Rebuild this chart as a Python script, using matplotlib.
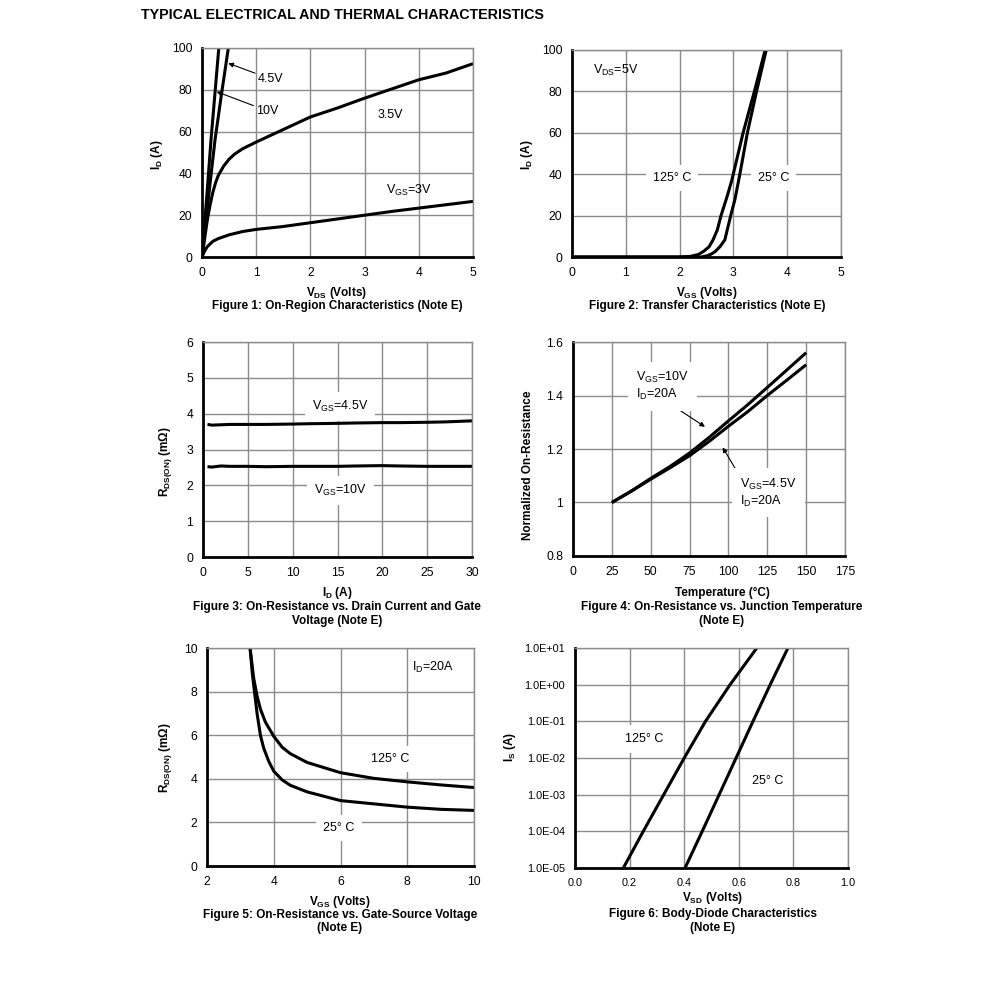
import matplotlib
matplotlib.use("Agg")
import matplotlib.pyplot as plt
from matplotlib.ticker import FixedLocator, FuncFormatter, NullLocator

plt.rcParams['font.family'] = ['Liberation Sans', 'DejaVu Sans']
plt.rcParams['mathtext.fontset'] = 'custom'
plt.rcParams['mathtext.sf'] = 'Liberation Sans'
plt.rcParams['mathtext.rm'] = 'Liberation Sans'
plt.rcParams['mathtext.bf'] = 'Liberation Sans:bold'

W, H = 991, 997

# ---------------- data ----------------
# Figure 1: on-region characteristics
f1_vds_10 = [0, 0.1, 0.166, 0.31]
f1_id_10 = [0, 33, 56, 100]
f1_vds_45 = [0, 0.1, 0.24, 0.36, 0.486]
f1_id_45 = [0, 24, 56, 78, 100]
f1_vds_35 = [0, 0.05, 0.1, 0.15, 0.2, 0.25, 0.3, 0.4, 0.5, 0.6, 0.75, 1.0, 1.5, 2.0, 2.5, 3.0, 3.5, 4.0, 4.5, 5.0]
f1_id_35 = [0, 9, 18, 25, 31, 35.5, 39, 43.5, 46.8, 49.2, 51.8, 55, 61, 67, 71.3, 76, 80.4, 84.8, 88, 92.5]
f1_vds_3 = [0, 0.05, 0.1, 0.2, 0.3, 0.5, 0.75, 1.0, 1.5, 2.0, 2.5, 3.0, 3.5, 4.0, 4.5, 5.0]
f1_id_3 = [0, 3, 5, 7.5, 8.8, 10.6, 12.2, 13.2, 14.6, 16.4, 18.2, 20.0, 21.8, 23.4, 25.0, 26.6]

# Figure 2: transfer characteristics
f2_vgs_125 = [0, 2.0, 2.2, 2.35, 2.45, 2.55, 2.62, 2.7, 2.77, 2.88, 2.97, 3.18, 3.39, 3.59]
f2_id_125 = [0, 0, 0.3, 1.2, 2.8, 5, 8.2, 13, 20, 29, 37, 60, 80, 100]
f2_vgs_25 = [0, 2.4, 2.5, 2.58, 2.66, 2.75, 2.84, 2.95, 3.03, 3.12, 3.26, 3.43, 3.61]
f2_id_25 = [0, 0, 0.5, 1.3, 2.6, 5, 8.2, 20, 28, 40, 60, 80, 100]

# Figure 3: on-resistance vs drain current
f3_id = [0.5, 1, 2, 3, 5, 7, 10, 12, 15, 17, 20, 22, 25, 27, 30]
f3_r_45 = [3.70, 3.68, 3.69, 3.70, 3.70, 3.70, 3.71, 3.72, 3.73, 3.74, 3.75, 3.75, 3.76, 3.77, 3.80]
f3_r_10 = [2.52, 2.51, 2.54, 2.53, 2.53, 2.52, 2.53, 2.53, 2.53, 2.54, 2.55, 2.54, 2.53, 2.53, 2.53]

# Figure 4: normalized on-resistance vs temperature
f4_temp = [25, 37.5, 50, 62.5, 75, 87.5, 100, 112.5, 125, 137.5, 150]
f4_r_10 = [1.0, 1.043, 1.09, 1.135, 1.185, 1.243, 1.305, 1.366, 1.43, 1.495, 1.56]
f4_r_45 = [1.0, 1.042, 1.087, 1.13, 1.175, 1.228, 1.285, 1.34, 1.40, 1.457, 1.515]

# Figure 5: on-resistance vs gate-source voltage
f5_vgs_125 = [3.29, 3.4, 3.5, 3.6, 3.75, 4.0, 4.25, 4.5, 5, 6, 7, 8, 9, 10]
f5_r_125 = [10, 8.6, 7.8, 7.2, 6.6, 5.95, 5.45, 5.15, 4.75, 4.28, 4.02, 3.86, 3.72, 3.6]
f5_vgs_25 = [3.29, 3.36, 3.43, 3.5, 3.6, 3.7, 3.85, 4.0, 4.25, 4.5, 5, 6, 7, 8, 9, 10]
f5_r_25 = [10, 8.8, 7.9, 7.0, 6.0, 5.4, 4.8, 4.35, 3.95, 3.7, 3.4, 3.0, 2.85, 2.7, 2.6, 2.55]

# Figure 6: body-diode characteristics
f6_is = [1e-5, 1e-4, 1e-3, 1e-2, 1e-1, 1, 10]
f6_vsd_125 = [0.177, 0.25, 0.325, 0.40, 0.478, 0.568, 0.666]
f6_vsd_25 = [0.403, 0.466, 0.528, 0.59, 0.652, 0.715, 0.78]

GRID = '#8c8c8c'
TICK_FS = 8.7
LAB_FS = 8.5
TXT_FS = 9.0


def ax_at(fig, left, top, right, bottom, tick_fs=TICK_FS):
    """Create axes from pixel box."""
    ax = fig.add_axes([left / W, 1 - bottom / H, (right - left) / W, (bottom - top) / H])
    ax.grid(True, color=GRID, lw=1.0)
    ax.set_axisbelow(True)
    for s in ['top', 'right']:
        ax.spines[s].set_color(GRID)
        ax.spines[s].set_linewidth(1.0)
    for s in ['left', 'bottom']:
        ax.spines[s].set_color('black')
        ax.spines[s].set_linewidth(2.0)
    ax.tick_params(length=0, labelsize=tick_fs, pad=7)
    return ax


def ftext(fig, x, y, s, fs=LAB_FS):
    # y is the text baseline in pixels from the top
    fig.text(x / W, 1 - y / H, s, ha='center', va='baseline', fontweight='bold', fontsize=fs)


def ylab(fig, x, y, s):
    fig.text(x / W, 1 - y / H, s, rotation=90, ha='center', va='center',
             fontweight='bold', fontsize=LAB_FS)


def wbox(pad):
    return dict(facecolor='white', edgecolor='none', pad=pad)


line_kw = dict(color='black', lw=2.2, solid_capstyle='butt')
arrow_kw = dict(arrowstyle='-|>', color='black', lw=0.8, shrinkA=0, shrinkB=0, mutation_scale=7)

fig = plt.figure(figsize=(W / 100, H / 100), dpi=100)
fig.text(141 / W, 1 - 15 / H, 'TYPICAL ELECTRICAL AND THERMAL CHARACTERISTICS',
         ha='left', va='center', fontweight='bold', fontsize=10.3)

# ---------------- Figure 1 ----------------
ax1 = ax_at(fig, 202, 48, 473, 257)
ax1.plot(f1_vds_10, f1_id_10, **line_kw)
ax1.plot(f1_vds_45, f1_id_45, **line_kw)
ax1.plot(f1_vds_35, f1_id_35, **line_kw)
ax1.plot(f1_vds_3, f1_id_3, **line_kw)
ax1.set_xlim(0, 5)
ax1.set_ylim(0, 100)
ax1.set_xticks(range(0, 6))
ax1.set_yticks(range(0, 101, 20))
ax1.annotate('4.5V', xy=(0.485, 92.7), xytext=(1.03, 85.2), fontsize=TXT_FS, va='center',
             arrowprops=arrow_kw)
ax1.annotate('10V', xy=(0.27, 79.1), xytext=(1.0, 69.9), fontsize=TXT_FS, va='center',
             arrowprops=arrow_kw)
ax1.text(3.23, 68, '3.5V', fontsize=TXT_FS, va='center')
ax1.text(3.4, 32, r'V$_\mathsf{GS}$=3V', fontsize=TXT_FS, va='center')
ftext(fig, 337, 296, r'V$_\mathbf{DS}$ (Volts)')
ftext(fig, 337, 309, 'Figure 1: On-Region Characteristics (Note E)')
ylab(fig, 157, 155, r'I$_\mathbf{D}$ (A)')

# ---------------- Figure 2 ----------------
ax2 = ax_at(fig, 572, 50, 841, 257)
ax2.plot(f2_vgs_125, f2_id_125, **line_kw)
ax2.plot(f2_vgs_25, f2_id_25, **line_kw)
ax2.set_xlim(0, 5)
ax2.set_ylim(0, 100)
ax2.set_xticks(range(0, 6))
ax2.set_yticks(range(0, 101, 20))
ax2.text(0.39, 90, r'V$_\mathsf{DS}$=5V', fontsize=TXT_FS, va='center')
ax2.text(1.86, 38, '125° C', fontsize=TXT_FS, ha='center', va='center', bbox=wbox(5))
ax2.text(3.75, 38, '25° C', fontsize=TXT_FS, ha='center', va='center', bbox=wbox(5))
ftext(fig, 707, 296, r'V$_\mathbf{GS}$ (Volts)')
ftext(fig, 707, 309, 'Figure 2: Transfer Characteristics (Note E)')
ylab(fig, 527, 155, r'I$_\mathbf{D}$ (A)')

# ---------------- Figure 3 ----------------
ax3 = ax_at(fig, 203, 342, 472, 557)
ax3.plot(f3_id, f3_r_45, **line_kw)
ax3.plot(f3_id, f3_r_10, **line_kw)
ax3.set_xlim(0, 30)
ax3.set_ylim(0, 6)
ax3.set_xticks(range(0, 31, 5))
ax3.set_yticks(range(0, 7))
ax3.text(15.3, 4.2, r'V$_\mathsf{GS}$=4.5V', fontsize=TXT_FS, ha='center', va='center', bbox=wbox(5))
ax3.text(15.3, 1.86, r'V$_\mathsf{GS}$=10V', fontsize=TXT_FS, ha='center', va='center', bbox=wbox(5))
ftext(fig, 337, 596, r'I$_\mathbf{D}$ (A)')
ftext(fig, 337, 610, 'Figure 3: On-Resistance vs. Drain Current and Gate')
ftext(fig, 337, 624, 'Voltage (Note E)')
ylab(fig, 165, 462, r'R$_\mathbf{DS(ON)}$ (m$\mathbf{\Omega}$)')

# ---------------- Figure 4 ----------------
ax4 = ax_at(fig, 573, 342, 845, 556)
ax4.plot(f4_temp, f4_r_10, **line_kw)
ax4.plot(f4_temp, f4_r_45, **line_kw)
ax4.set_xlim(0, 175)
ax4.set_ylim(0.8, 1.6)
ax4.set_xticks(range(0, 176, 25))
ax4.set_yticks([0.8, 1.0, 1.2, 1.4, 1.6])
ax4.yaxis.set_major_formatter(FuncFormatter(lambda v, _: f'{v:g}'))
ax4.annotate('V$_\\mathsf{GS}$=10V\nI$_\\mathsf{D}$=20A', xy=(84.9, 1.283), xytext=(40.5, 1.435),
             fontsize=TXT_FS, va='center', ha='left', bbox=wbox(6),
             arrowprops=dict(arrow_kw, relpos=(0.6, 0.0)))
ax4.annotate('V$_\\mathsf{GS}$=4.5V\nI$_\\mathsf{D}$=20A', xy=(96.3, 1.206), xytext=(107.5, 1.036),
             fontsize=TXT_FS, va='center', ha='left', bbox=wbox(6),
             arrowprops=dict(arrow_kw, relpos=(0.0, 1.0)))
ftext(fig, 722, 596, 'Temperature (°C)')
ftext(fig, 722, 610, 'Figure 4: On-Resistance vs. Junction Temperature')
ftext(fig, 722, 624, '(Note E)')
ylab(fig, 528, 465, 'Normalized On-Resistance')

# ---------------- Figure 5 ----------------
ax5 = ax_at(fig, 207, 648, 474, 866)
ax5.plot(f5_vgs_125, f5_r_125, **line_kw)
ax5.plot(f5_vgs_25, f5_r_25, **line_kw)
ax5.set_xlim(2, 10)
ax5.set_ylim(0, 10)
ax5.set_xticks(range(2, 11, 2))
ax5.set_yticks(range(0, 11, 2))
ax5.text(8.14, 9.1, r'I$_\mathsf{D}$=20A', fontsize=TXT_FS, va='center')
ax5.text(7.48, 4.9, '125° C', fontsize=TXT_FS, ha='center', va='center', bbox=wbox(5))
ax5.text(5.95, 1.74, '25° C', fontsize=TXT_FS, ha='center', va='center', bbox=wbox(5))
ftext(fig, 340, 905, r'V$_\mathbf{GS}$ (Volts)')
ftext(fig, 340, 918, 'Figure 5: On-Resistance vs. Gate-Source Voltage')
ftext(fig, 340, 931, '(Note E)')
ylab(fig, 165, 758, r'R$_\mathbf{DS(ON)}$ (m$\mathbf{\Omega}$)')

# ---------------- Figure 6 ----------------
ax6 = ax_at(fig, 575, 648, 848, 868, tick_fs=7.8)
ax6.set_yscale('log')
ax6.plot(f6_vsd_125, f6_is, **line_kw)
ax6.plot(f6_vsd_25, f6_is, **line_kw)
ax6.set_xlim(0, 1.0)
ax6.set_ylim(1e-5, 1e1)
ax6.set_xticks([0, 0.2, 0.4, 0.6, 0.8, 1.0])
ax6.xaxis.set_major_formatter(FuncFormatter(lambda v, _: f'{v:.1f}'))
ax6.yaxis.set_major_locator(FixedLocator([1e-5, 1e-4, 1e-3, 1e-2, 1e-1, 1, 10]))
ax6.yaxis.set_minor_locator(NullLocator())
ax6.yaxis.set_major_formatter(FuncFormatter(lambda v, _: f'{v:.1E}'))
ax6.text(0.253, 0.033, '125° C', fontsize=TXT_FS, ha='center', va='center', bbox=wbox(6))
ax6.text(0.707, 0.0024, '25° C', fontsize=TXT_FS, ha='center', va='center', bbox=wbox(6))
ftext(fig, 713, 901, r'V$_\mathbf{SD}$ (Volts)')
ftext(fig, 713, 917, 'Figure 6: Body-Diode Characteristics')
ftext(fig, 713, 931, '(Note E)')
ylab(fig, 510, 747, r'I$_\mathbf{S}$ (A)')

fig.savefig('out.png', dpi=100)
